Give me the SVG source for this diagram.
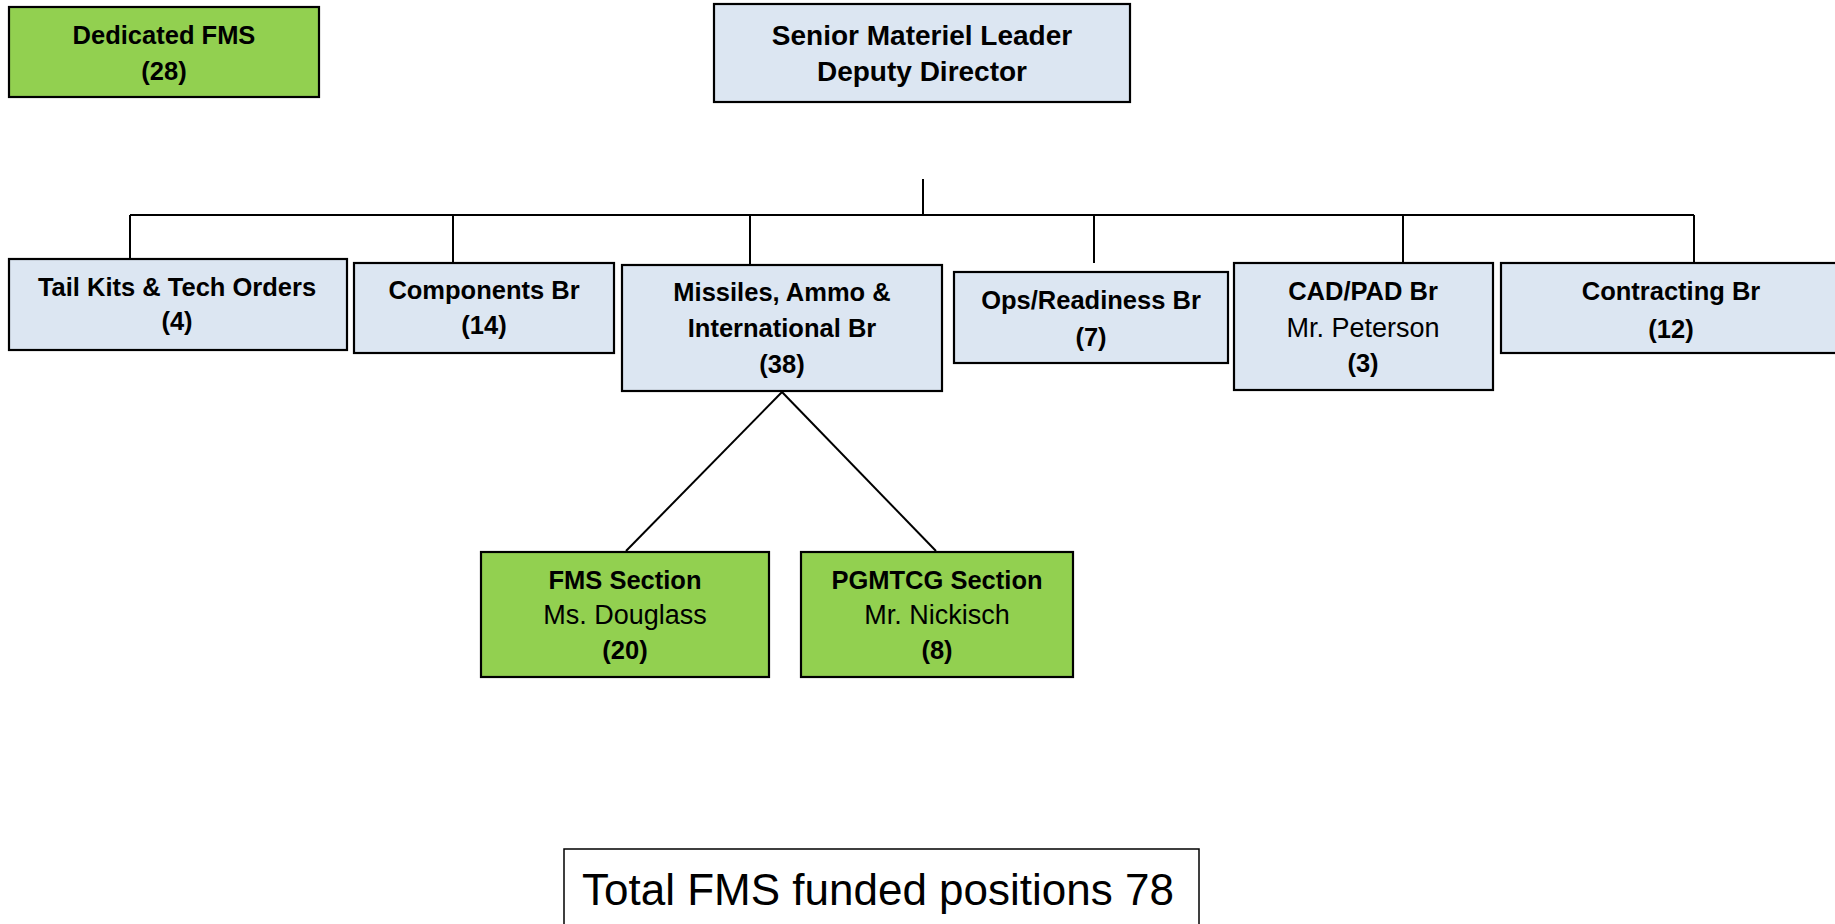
<svg xmlns="http://www.w3.org/2000/svg" width="1835" height="924" viewBox="0 0 1835 924">
<style>
.box{stroke:#000;stroke-width:2.2}
.blue{fill:#DCE6F2}
.green{fill:#92D050}
.t{font-family:"Liberation Sans",Arial,sans-serif;font-size:25.5px;text-anchor:middle;fill:#000}
.b{font-weight:bold}
.r{font-size:27px}
.big{font-size:28px}
.conn{stroke:#000;stroke-width:2;fill:none}
</style>
<rect width="1835" height="924" fill="#fff"/>
<g id="connectors">
<line class="conn" x1="923" y1="179" x2="923" y2="216"/>
<line class="conn" x1="130" y1="215" x2="1694" y2="215"/>
<line class="conn" x1="130" y1="215" x2="130" y2="259"/>
<line class="conn" x1="453" y1="215" x2="453" y2="263"/>
<line class="conn" x1="750" y1="215" x2="750" y2="265"/>
<line class="conn" x1="1094" y1="215" x2="1094" y2="263"/>
<line class="conn" x1="1403" y1="215" x2="1403" y2="263"/>
<line class="conn" x1="1694" y1="215" x2="1694" y2="263"/>
<line class="conn" x1="782" y1="392" x2="626" y2="551"/>
<line class="conn" x1="782" y1="392" x2="936" y2="551"/>
</g>
<g id="dedicated-fms">
<rect class="box green" x="9" y="7" width="310" height="90"/>
<text class="t b" x="164" y="44">Dedicated FMS</text>
<text class="t b" x="164" y="80">(28)</text>
</g>
<g id="senior-leader">
<rect class="box blue" x="714" y="4" width="416" height="98"/>
<text class="t b big" x="922" y="45">Senior Materiel Leader</text>
<text class="t b big" x="922" y="81">Deputy Director</text>
</g>
<g id="tail-kits">
<rect class="box blue" x="9" y="259" width="338" height="91"/>
<text class="t b" x="177" y="296">Tail Kits &amp; Tech Orders</text>
<text class="t b" x="177" y="330">(4)</text>
</g>
<g id="components">
<rect class="box blue" x="354" y="263" width="260" height="90"/>
<text class="t b" x="484" y="299">Components Br</text>
<text class="t b" x="484" y="334">(14)</text>
</g>
<g id="missiles">
<rect class="box blue" x="622" y="265" width="320" height="126"/>
<text class="t b" x="782" y="301">Missiles, Ammo &amp;</text>
<text class="t b" x="782" y="337">International Br</text>
<text class="t b" x="782" y="373">(38)</text>
</g>
<g id="ops-readiness">
<rect class="box blue" x="954" y="272" width="274" height="91"/>
<text class="t b" x="1091" y="309">Ops/Readiness Br</text>
<text class="t b" x="1091" y="346">(7)</text>
</g>
<g id="cad-pad">
<rect class="box blue" x="1234" y="263" width="259" height="127"/>
<text class="t b" x="1363" y="300">CAD/PAD Br</text>
<text class="t r" x="1363" y="337">Mr. Peterson</text>
<text class="t b" x="1363" y="372">(3)</text>
</g>
<g id="contracting">
<rect class="box blue" x="1501" y="263" width="340" height="90"/>
<text class="t b" x="1671" y="300">Contracting Br</text>
<text class="t b" x="1671" y="338">(12)</text>
</g>
<g id="fms-section">
<rect class="box green" x="481" y="552" width="288" height="125"/>
<text class="t b" x="625" y="589">FMS Section</text>
<text class="t r" x="625" y="624">Ms. Douglass</text>
<text class="t b" x="625" y="659">(20)</text>
</g>
<g id="pgmtcg-section">
<rect class="box green" x="801" y="552" width="272" height="125"/>
<text class="t b" x="937" y="589">PGMTCG Section</text>
<text class="t r" x="937" y="624">Mr. Nickisch</text>
<text class="t b" x="937" y="659">(8)</text>
</g>
<g id="total">
<rect x="564" y="849" width="635" height="90" fill="#fff" stroke="#000" stroke-width="1.5"/>
<text class="t" x="878" y="905" style="font-size:44px">Total FMS funded positions 78</text>
</g>
</svg>
